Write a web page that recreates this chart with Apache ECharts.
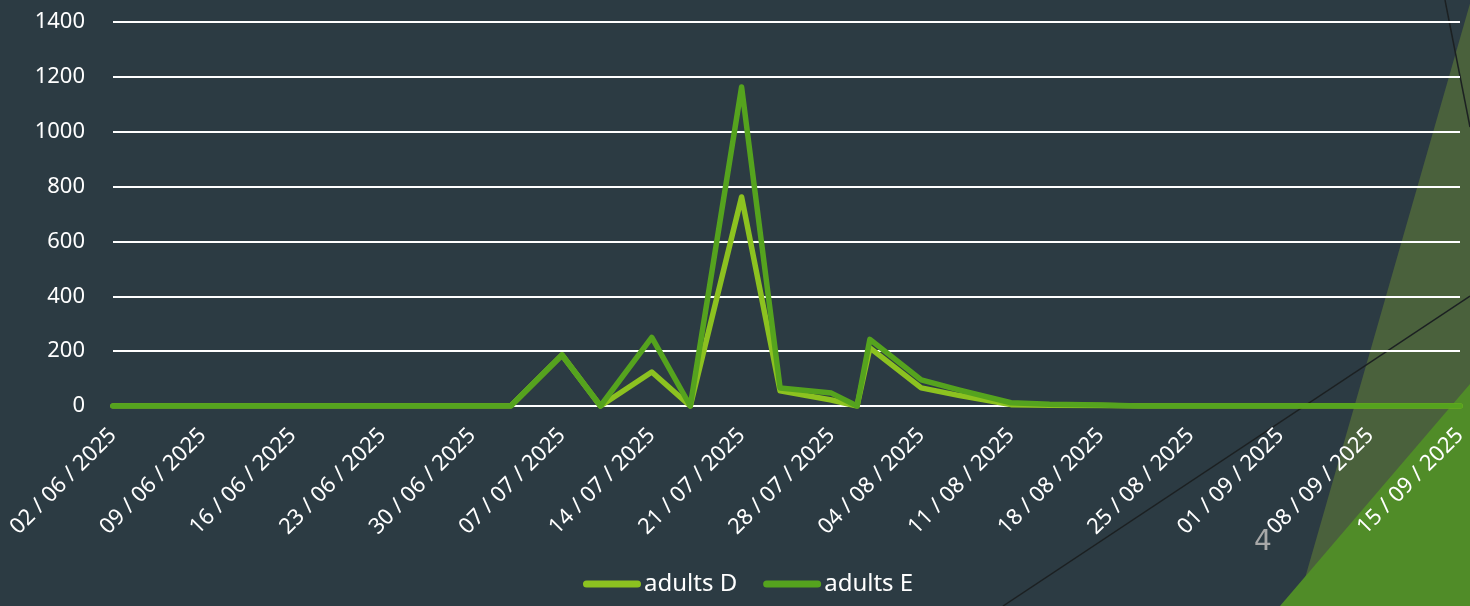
<!DOCTYPE html>
<html>
<head>
<meta charset="utf-8">
<script src="https://cdn.jsdelivr.net/npm/echarts@6/dist/echarts.min.js"></script>
<style>
  html, body { margin: 0; padding: 0; background: #2c3b43; }
  #chart { width: 1470px; height: 606px; }
</style>
</head>
<body>
<div id="chart"></div>
<script>
// sample dates (dd/mm/yyyy)
var dates = ['02/06/2025', '05/06/2025', '09/06/2025', '12/06/2025', '16/06/2025', '19/06/2025',
    '23/06/2025', '26/06/2025', '30/06/2025', '03/07/2025', '07/07/2025', '10/07/2025',
    '14/07/2025', '17/07/2025', '21/07/2025', '24/07/2025', '28/07/2025', '30/07/2025',
    '31/07/2025', '04/08/2025', '07/08/2025', '11/08/2025', '14/08/2025', '18/08/2025',
    '21/08/2025', '25/08/2025', '28/08/2025', '01/09/2025', '04/09/2025', '08/09/2025',
    '11/09/2025', '15/09/2025'];
var adultsD = [0, 0, 0, 0, 0, 0, 0, 0, 0, 0, 186, 0, 124, 0, 762, 55, 22, 0, 212, 66, 38, 5, 3, 2, 0, 0, 0, 0, 0, 0, 0, 0];
var adultsE = [0, 0, 0, 0, 0, 0, 0, 0, 0, 0, 186, 0, 250, 0, 1163, 66, 47, 0, 243, 95, 58, 12, 6, 4, 0, 0, 0, 0, 0, 0, 0, 0];
// weekly axis labels
var tickLabels = ['02/06/2025', '09/06/2025', '16/06/2025', '23/06/2025', '30/06/2025', '07/07/2025',
    '14/07/2025', '21/07/2025', '28/07/2025', '04/08/2025', '11/08/2025', '18/08/2025',
    '25/08/2025', '01/09/2025', '08/09/2025', '15/09/2025'];

var FONT = 'Noto Sans';

// days since first label
function dayOffset(s) {
    var p = s.split('/');
    var t = Date.UTC(+p[2], +p[1] - 1, +p[0]);
    var p0 = tickLabels[0].split('/');
    var t0 = Date.UTC(+p0[2], +p0[1] - 1, +p0[0]);
    return Math.round((t - t0) / 86400000);
}

function toPairs(values) {
    var d = [];
    for (var i = 0; i < dates.length; i++) {
        d.push([dayOffset(dates[i]), values[i]]);
    }
    return d;
}

var myChart = echarts.init(document.getElementById('chart'));

var option = {
    backgroundColor: '#2c3b43',
    animation: false,
    textStyle: { fontFamily: FONT },
    graphic: [
        { type: 'polygon', z: -10, silent: true, shape: { points: [[1471, 0], [1470, 606], [1297, 606]] }, style: { fill: '#4a613c' } },
        { type: 'polygon', z: -9, silent: true, shape: { points: [[1470, 384], [1470, 606], [1280, 606]] }, style: { fill: '#508c28' } },
        { type: 'line', z: -8, silent: true, shape: { x1: 1003, y1: 606, x2: 1470, y2: 296 }, style: { stroke: '#1c2022', lineWidth: 1.5 } },
        { type: 'line', z: -8, silent: true, shape: { x1: 1445, y1: 0, x2: 1470, y2: 127 }, style: { stroke: '#1c2022', lineWidth: 1.5 } },
        { type: 'text', z: -7, silent: true, left: 1254, top: 529, style: { text: '4', fill: '#a8a8a8', font: '28px "DejaVu Sans"' } }
    ],
    grid: {
        left: 113,
        right: 10,
        top: 22,
        bottom: 200
    },
    legend: {
        left: 578,
        top: 567,
        itemWidth: 58,
        itemHeight: 7,
        itemGap: 26,
        icon: 'path://M3.5,0H54.5A3.5,3.5,0,0,1,54.5,7H3.5A3.5,3.5,0,0,1,3.5,0Z',
        textStyle: { color: '#ffffff', fontSize: 24, fontFamily: FONT, padding: [0, 0, 0, -2] },
        data: ['adults D', 'adults E']
    },
    xAxis: {
        type: 'value',
        min: 0,
        max: 105,
        interval: 7,
        axisLine: { show: false },
        axisTick: { show: false },
        splitLine: { show: false },
        axisLabel: {
            rotate: 45,
            margin: 26,
            color: '#ffffff',
            fontSize: 22,
            fontFamily: FONT,
            formatter: function (v) {
                var s = tickLabels[Math.round(v / 7)] || '';
                return s.split('/').join(' / ');
            }
        }
    },
    yAxis: {
        type: 'value',
        min: 0,
        max: 1400,
        interval: 200,
        axisLine: { show: false },
        axisTick: { show: false },
        splitLine: { lineStyle: { color: '#ffffff', width: 2 } },
        axisLabel: {
            color: '#ffffff',
            fontSize: 22,
            fontFamily: FONT,
            margin: 28,
            formatter: function (v) { return String(v); }
        }
    },
    series: [
        {
            name: 'adults D',
            type: 'line',
            symbol: 'none',
            color: '#8cc220',
            lineStyle: { width: 5.5, color: '#8cc220', join: 'round', cap: 'round' },
            data: toPairs(adultsD)
        },
        {
            name: 'adults E',
            type: 'line',
            symbol: 'none',
            color: '#55a31e',
            lineStyle: { width: 5.5, color: '#55a31e', join: 'round', cap: 'round' },
            data: toPairs(adultsE)
        }
    ]
};
myChart.setOption(option);
</script>
</body>
</html>
